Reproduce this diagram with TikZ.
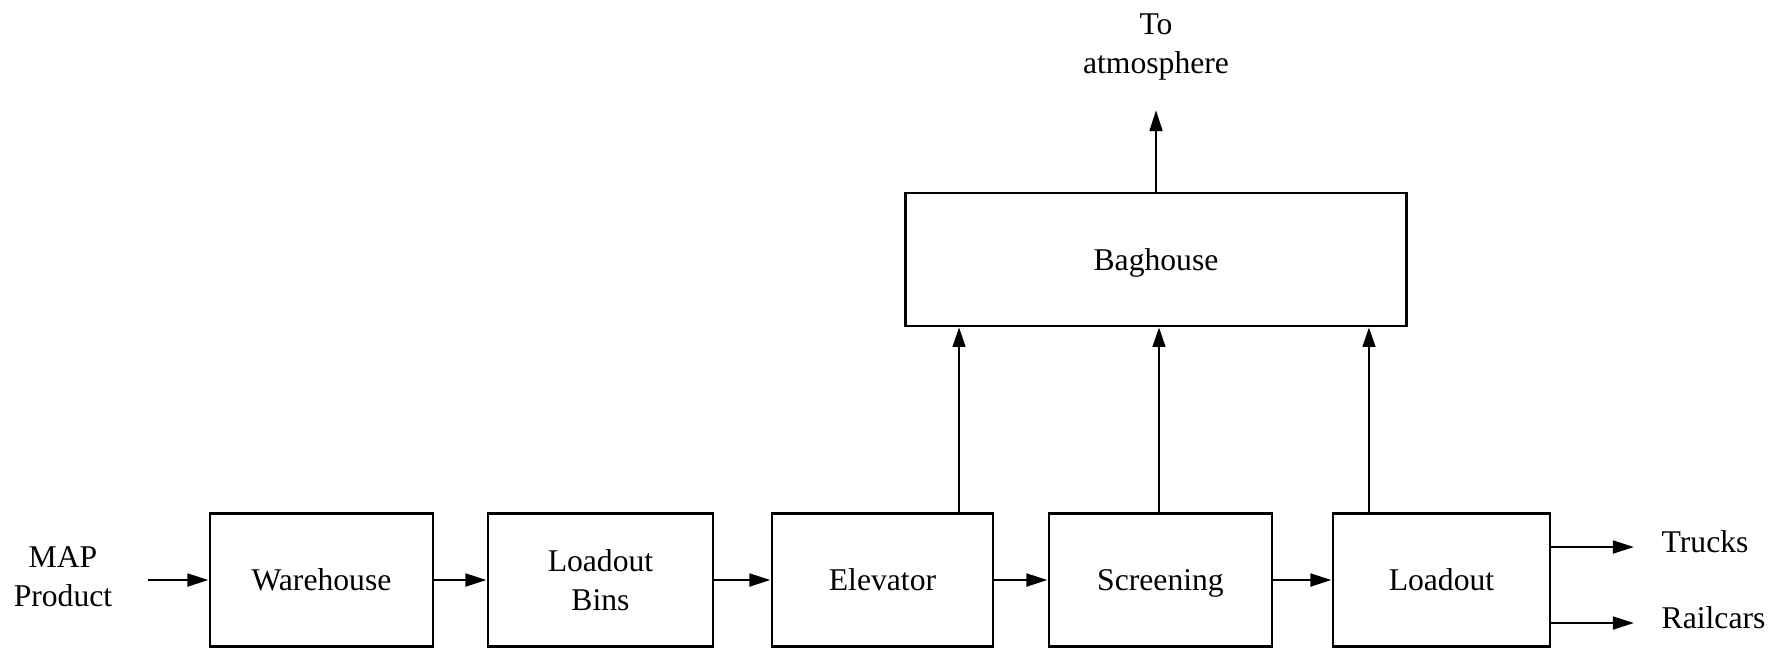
\documentclass[tikz,border=0pt]{standalone}
\usepackage{fontspec}
\setmainfont{Liberation Serif}
\usetikzlibrary{arrows.meta}

\begin{document}
\begin{tikzpicture}[x=0.01cm, y=-0.01cm,
    font=\fontsize{9}{11}\selectfont,
    unit/.style={draw, line width=0.8pt, minimum height=1.325cm, inner sep=0pt, align=center},
    flow/.style={-{Triangle[length=6pt, width=3.6pt]}, line width=0.8pt},
    vent/.style={-{Triangle[length=5.5pt, width=3.6pt]}, line width=0.6pt}]
    \useasboundingbox (0,0) rectangle (1779,650);

    % Process units along the bottom
    \node[unit, minimum width=2.23cm] (ware) at (321.5,580) {Warehouse};
    \node[unit, minimum width=2.25cm] (bins) at (600.5,580) {Loadout\\Bins};
    \node[unit, minimum width=2.21cm] (elev) at (882.5,580) {Elevator};
    \node[unit, minimum width=2.23cm, text depth=0pt] (scrn) at (1160.5,580) {Screening};
    \node[unit, minimum width=2.17cm] (load) at (1441.5,580) {Loadout};

    % Dust collection
    \node[unit, minimum width=5cm, minimum height=1.33cm, text depth=0pt] (bag) at (1156,259.5) {Baghouse};

    % Feed and product labels
    \node[align=center] (map) at (63,577) {MAP\\Product};
    \node[align=center] (atm) at (1156,47) {To\\atmosphere};
    \node[anchor=base west, inner sep=0pt] (trucks) at (1661,552) {Trucks};
    \node[anchor=base west, inner sep=0pt] (rail) at (1661,628) {Railcars};

    \coordinate (feed) at (148,580);
    \coordinate (stack) at (1156,110);
    \coordinate (trk) at (1634,547);
    \coordinate (car) at (1634,623);

    % Main product line
    \draw[flow] (feed) -- (ware.west);
    \draw[flow] (ware) -- (bins);
    \draw[flow] (bins) -- (elev);
    \draw[flow] (elev) -- (scrn);
    \draw[flow] (scrn) -- (load);
    \draw[flow] (load.east |- trk) -- (trk);
    \draw[flow] (load.east |- car) -- (car);

    % Dust to the baghouse
    \foreach \u/\dx in {elev/0.765cm, scrn/-0.015cm, load/-0.725cm} {
        \draw[vent] ([xshift=\dx]\u.north) -- ([xshift=\dx]\u.north |- bag.south);
    }
    \draw[flow] (bag.north) -- (stack);
\end{tikzpicture}
\end{document}
